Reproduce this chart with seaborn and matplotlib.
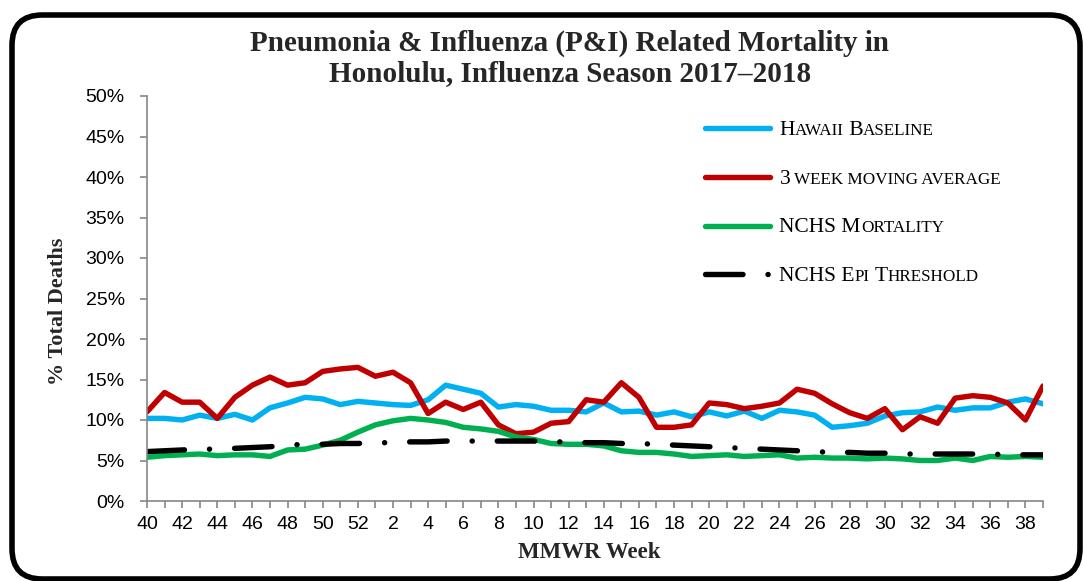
import matplotlib
matplotlib.use("Agg")
import numpy as np
import pandas as pd
import matplotlib.pyplot as plt
import seaborn as sns
from matplotlib.offsetbox import TextArea, DrawingArea, HPacker, VPacker, AnchoredOffsetbox
from matplotlib.lines import Line2D
from matplotlib.patches import FancyBboxPatch

# ---------------- data ----------------
weeks = list(range(40, 53)) + list(range(1, 40))
hawaii_baseline = [10.2, 10.2, 10.0, 10.6, 10.2, 10.7, 10.0, 11.5, 12.1, 12.8, 12.6, 11.9, 12.3,
                   12.1, 11.9, 11.8, 12.5, 14.3, 13.8, 13.3, 11.6, 11.9, 11.7, 11.2, 11.2, 11.0,
                   12.1, 11.0, 11.1, 10.6, 11.0, 10.4, 11.0, 10.5, 11.1, 10.2, 11.2, 11.0, 10.6,
                   9.1, 9.3, 9.6, 10.5, 10.9, 11.0, 11.6, 11.2, 11.5, 11.5, 12.2, 12.6, 12.0]
moving_avg_3wk = [11.0, 13.4, 12.2, 12.2, 10.2, 12.8, 14.3, 15.3, 14.3, 14.6, 16.0, 16.3, 16.5,
                  15.4, 15.9, 14.6, 10.8, 12.2, 11.3, 12.2, 9.4, 8.3, 8.5, 9.6, 9.8, 12.5,
                  12.2, 14.6, 12.8, 9.1, 9.1, 9.4, 12.1, 11.9, 11.4, 11.7, 12.1, 13.8, 13.3,
                  12.0, 10.9, 10.2, 11.4, 8.8, 10.4, 9.6, 12.7, 13.0, 12.8, 12.1, 10.0, 14.2]
nchs_mortality = [5.4, 5.6, 5.7, 5.8, 5.6, 5.7, 5.7, 5.5, 6.3, 6.4, 6.9, 7.5, 8.5,
                  9.4, 9.9, 10.2, 10.0, 9.7, 9.1, 8.9, 8.6, 7.9, 7.6, 7.1, 7.0, 7.0,
                  6.8, 6.2, 6.0, 6.0, 5.8, 5.5, 5.6, 5.7, 5.5, 5.6, 5.7, 5.3, 5.4,
                  5.3, 5.3, 5.2, 5.3, 5.2, 5.0, 5.0, 5.3, 5.0, 5.5, 5.4, 5.5, 5.4]
nchs_epi_threshold = [6.1, 6.2, 6.3, 6.4, 6.4, 6.5, 6.6, 6.7, 6.9, 7.0, 7.0, 7.1, 7.1,
                      7.2, 7.2, 7.3, 7.3, 7.4, 7.4, 7.4, 7.4, 7.4, 7.4, 7.3, 7.3, 7.2,
                      7.2, 7.1, 7.1, 7.0, 6.9, 6.8, 6.7, 6.6, 6.5, 6.4, 6.3, 6.2, 6.1,
                      6.0, 6.0, 5.9, 5.9, 5.8, 5.8, 5.8, 5.8, 5.8, 5.8, 5.7, 5.7, 5.7]
y_ticks = list(range(0, 51, 5))
title_text = "Pneumonia & Influenza (P&I) Related Mortality in\nHonolulu, Influenza Season 2017\u20132018"

# ---------------- style ----------------
sns.set_theme(style="white")
plt.rcParams["font.family"] = ["Liberation Sans", "DejaVu Sans"]
plt.rcParams["lines.scale_dashes"] = False

SERIF = "Liberation Serif"
GREY = "#868686"
C_BLUE, C_RED, C_GREEN, C_BLACK = "#00B0F0", "#C00000", "#00B050", "#000000"
LW = 3.9
DASHDOT = (0, (27, 18, 0.1, 18))

df = pd.DataFrame({
    "pos": np.arange(len(weeks)),
    "week": weeks,
    "baseline": hawaii_baseline,
    "mavg": moving_avg_3wk,
    "nchs": nchs_mortality,
    "thresh": nchs_epi_threshold,
})

fig = plt.figure(figsize=(10.83, 5.81), dpi=100)
ax = fig.add_axes([147 / 1083, 1 - 501 / 581, 896 / 1083, 405 / 581])

series = [("baseline", C_BLUE), ("mavg", C_RED), ("nchs", C_GREEN), ("thresh", C_BLACK)]
for col, colr in series:
    sns.lineplot(data=df, x="pos", y=col, color=colr, lw=LW, ax=ax, legend=False,
                 solid_capstyle="round", solid_joinstyle="round")
thr_line = ax.lines[-1]
thr_line.set_linestyle(DASHDOT)
thr_line.set_dash_capstyle("round")

ax.set_xlim(0, len(weeks) - 1)
ax.set_ylim(0, 50)
ax.set_yticks(y_ticks)
ax.set_yticklabels([f"{v}%" for v in y_ticks])
major = [i for i in range(len(weeks)) if i % 2 == 0]
minor = [i for i in range(len(weeks)) if i % 2 == 1]
ax.set_xticks(major)
ax.set_xticklabels([str(weeks[i]) for i in major])
ax.set_xticks(minor, minor=True)

for s in ["top", "right"]:
    ax.spines[s].set_visible(False)
for s in ["left", "bottom"]:
    ax.spines[s].set_color(GREY)
    ax.spines[s].set_linewidth(1.2)
ax.tick_params(axis="both", which="both", direction="out", length=5, width=1.2, color=GREY,
               labelsize=14, labelcolor="black")
ax.tick_params(axis="y", pad=11)
ax.tick_params(axis="x", which="both", bottom=True, pad=6)
ax.tick_params(axis="y", left=True)

ax.set_ylabel("% Total Deaths", fontfamily=SERIF, fontweight="bold", fontsize=16, va="center")
ax.yaxis.set_label_coords((58 - 147) / 896, (501 - 311) / 405)
ax.set_xlabel("MMWR Week", fontfamily=SERIF, fontweight="bold", fontsize=16.5, va="center")
ax.xaxis.set_label_coords((589 - 147) / 896, (501 - 552) / 405)

fig.text(570 / 1083, 1 - 58 / 581, title_text, ha="center", va="center", fontfamily=SERIF,
         fontweight="bold", fontsize=21, linespacing=1.15)

# ---------------- legend (small caps) ----------------
BIG, SMALL = 15.5, 12.3
legend_rows = [
    (C_BLUE, "-", [("H", BIG), ("AWAII", SMALL), (" B", BIG), ("ASELINE", SMALL)]),
    (C_RED, "-", [("3", BIG), (" WEEK MOVING AVERAGE", SMALL)]),
    (C_GREEN, "-", [("NCHS M", BIG), ("ORTALITY", SMALL)]),
    (C_BLACK, DASHDOT, [("NCHS E", BIG), ("PI", SMALL), (" T", BIG), ("HRESHOLD", SMALL)]),
]
rows = []
for colr, ls, pieces in legend_rows:
    da = DrawingArea(50, 10, 0, 0)
    ln = Line2D([1.5, 48.5], [4.7, 4.7], color=colr, lw=LW, solid_capstyle="round",
                dash_capstyle="round")
    if ls != "-":
        ln.set_linestyle(ls)
    da.add_artist(ln)
    texts = [TextArea(t, textprops=dict(fontfamily=SERIF, fontsize=sz, color="black"))
             for t, sz in pieces]
    tp = HPacker(children=texts, align="baseline", pad=0, sep=0)
    rows.append(HPacker(children=[da, tp], align="baseline", pad=0, sep=5))
vp = VPacker(children=rows, align="left", pad=0, sep=21.3)
anc = AnchoredOffsetbox(loc="upper left", child=vp, pad=0, borderpad=0, frameon=False,
                        bbox_to_anchor=(703 / 1083, 1 - 121 / 581),
                        bbox_transform=fig.transFigure)
fig.add_artist(anc)

# ---------------- rounded frame ----------------
frame = FancyBboxPatch((12 / 1083, 2 / 581), 1068 / 1083, 564 / 581,
                       boxstyle="round,pad=0,rounding_size=0.028",
                       mutation_aspect=1083 / 581, transform=fig.transFigure,
                       fill=False, ec="black", lw=4, clip_on=False)
fig.add_artist(frame)

fig.savefig("out.png", dpi=100)
